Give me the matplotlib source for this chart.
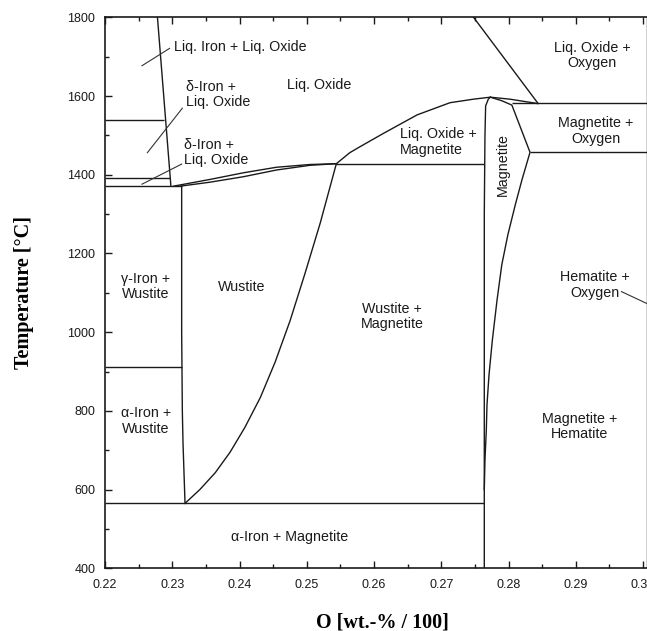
import matplotlib
matplotlib.use("Agg")
import matplotlib.pyplot as plt
from matplotlib.ticker import MultipleLocator

plt.rcParams["font.family"] = ["Liberation Sans", "DejaVu Sans"]

# ---- phase boundaries of the Fe-O system (O mass fraction, temperature in degC) ----
iron_liquidus_x = [0.2278, 0.2298]
iron_liquidus_T = [1800, 1371]

wustite_liquidus_x = [0.2302, 0.2356, 0.2406, 0.2455, 0.2505, 0.2544]
wustite_liquidus_T = [1371, 1388, 1405, 1419, 1426, 1428]

wustite_solidus_x = [0.2312, 0.2356, 0.2406, 0.2455, 0.2505, 0.2544]
wustite_solidus_T = [1371, 1381, 1395, 1412, 1424, 1428]

wustite_fe_side_x = [0.2314, 0.2314, 0.2315, 0.2316, 0.2319]
wustite_fe_side_T = [1371, 1000, 800, 718, 565]

wustite_o_side_x = [0.2544, 0.2520, 0.2497, 0.2475, 0.2453, 0.2431, 0.2408,
                    0.2386, 0.2364, 0.2341, 0.2319]
wustite_o_side_T = [1428, 1277, 1147, 1028, 924, 834, 758, 695, 643, 600, 565]

magnetite_liquidus_x = [0.2544, 0.2564, 0.2579, 0.2614, 0.2664, 0.2713, 0.2748,
                        0.2773, 0.2802, 0.2843]
magnetite_liquidus_T = [1428, 1456, 1471, 1505, 1552, 1583, 1592, 1597, 1592, 1581]

magnetite_left_x = [0.2764, 0.2764, 0.2765, 0.2766, 0.2770, 0.2773]
magnetite_left_T = [400, 1300, 1500, 1575, 1592, 1597]

magnetite_right_x = [0.2773, 0.2790, 0.2805, 0.2832, 0.2820, 0.2810, 0.2799, 0.2790,
                     0.2783, 0.2776, 0.2771, 0.2768, 0.2767, 0.2765, 0.2764]
magnetite_right_T = [1597, 1588, 1577, 1457, 1387, 1323, 1247, 1171, 1082, 980, 891,
                     815, 751, 675, 600]

oxide_oxygen_x = [0.2748, 0.2844]
oxide_oxygen_T = [1800, 1581]

hematite_x = [0.30055, 0.30055]
hematite_T = [400, 1800]

# horizontal invariant lines: temperature, start and end composition
iso_T = [1538, 1392, 1371, 912, 565, 1428, 1581, 1457]
iso_x0 = [0.2200, 0.2200, 0.2200, 0.2200, 0.2200, 0.2544, 0.2805, 0.2832]
iso_x1 = [0.2287, 0.2297, 0.2314, 0.2314, 0.2764, 0.2764, 0.30055, 0.30055]

# leader lines from labels to narrow fields
leader_x = [(0.2255, 0.2296), (0.2263, 0.2315), (0.2255, 0.2314), (0.2968, 0.30055)]
leader_T = [(1677, 1721), (1456, 1569), (1376, 1427), (1103, 1073)]

# field labels
labels = ["Liq. Iron + Liq. Oxide", "\u03b4-Iron +\nLiq. Oxide", "\u03b4-Iron +\nLiq. Oxide",
          "Liq. Oxide", "Liq. Oxide +\nOxygen", "Magnetite +\nOxygen",
          "Liq. Oxide +\nMagnetite", "Magnetite", "\u03b3-Iron +\nWustite", "Wustite",
          "Wustite +\nMagnetite", "Hematite +\nOxygen", "\u03b1-Iron +\nWustite",
          "\u03b1-Iron + Magnetite", "Magnetite +\nHematite"]
label_x = [0.2302, 0.2320, 0.2318, 0.2518, 0.2924, 0.2930, 0.2638, 0.2791, 0.2261, 0.2403,
           0.2627, 0.2929, 0.2261, 0.2475, 0.2906]
label_T = [1725, 1603, 1457, 1628, 1703, 1511, 1483, 1425, 1116, 1116, 1040, 1120, 774, 480, 760]
label_ha = ["left", "left", "left", "center", "center", "center", "left", "center", "center",
            "center", "center", "center", "center", "center", "center"]
label_rot = [0, 0, 0, 0, 0, 0, 0, 90, 0, 0, 0, 0, 0, 0, 0]

x_ticks = [0.22, 0.23, 0.24, 0.25, 0.26, 0.27, 0.28, 0.29, 0.30]
T_ticks = [400, 600, 800, 1000, 1200, 1400, 1600, 1800]

W, H = 647, 631
fig = plt.figure(figsize=(W / 100, H / 100), dpi=100)
ax = fig.add_axes([105 / W, 1 - 568.3 / H, 605.25 / W, 551 / H])

lc = "#1a1a1a"
lw = 1.0
for xs, ts in [(iron_liquidus_x, iron_liquidus_T), (wustite_liquidus_x, wustite_liquidus_T),
               (wustite_solidus_x, wustite_solidus_T), (wustite_fe_side_x, wustite_fe_side_T),
               (wustite_o_side_x, wustite_o_side_T), (magnetite_liquidus_x, magnetite_liquidus_T),
               (magnetite_left_x, magnetite_left_T), (magnetite_right_x, magnetite_right_T),
               (oxide_oxygen_x, oxide_oxygen_T), (hematite_x, hematite_T)]:
    ax.plot(xs, ts, color=lc, lw=lw, solid_joinstyle="round")

ax.hlines(iso_T, iso_x0, iso_x1, colors=lc, lw=lw)

for xs, ts in zip(leader_x, leader_T):
    ax.plot(xs, ts, color="#333333", lw=0.8)

for s, x, t, ha, rot in zip(labels, label_x, label_T, label_ha, label_rot):
    ax.text(x, t, s, ha=ha, va="center", rotation=rot, fontsize=10.3,
            color="#1a1a1a", linespacing=1.12, multialignment=ha)

ax.set_xlim(0.22, 0.31)
ax.set_ylim(400, 1800)
ax.set_xticks(x_ticks)
ax.set_xticklabels([f"{v:.2f}" for v in x_ticks])
ax.set_yticks(T_ticks)
ax.xaxis.set_minor_locator(MultipleLocator(0.005))
ax.yaxis.set_minor_locator(MultipleLocator(100))
ax.tick_params(which="both", direction="in", top=True, right=False, labelsize=9,
               colors="#1a1a1a", width=1.0)
ax.tick_params(which="major", length=5)
ax.tick_params(which="minor", length=3)
ax.tick_params(axis="x", pad=8)
ax.tick_params(axis="y", pad=7)
ax.spines["right"].set_visible(False)
for s in ["left", "bottom", "top"]:
    ax.spines[s].set_linewidth(1.2)
    ax.spines[s].set_color("#1a1a1a")

fig.text(24 / W, 1 - 292.5 / H, "Temperature [\u00b0C]", rotation=90, ha="center", va="center",
         family="Liberation Serif", weight="bold", fontsize=14.5)
fig.text(382 / W, 1 - 622 / H, "O [wt.-% / 100]", ha="center", va="center",
         family="Liberation Serif", weight="bold", fontsize=14.5)

fig.savefig("out.png", dpi=100)
